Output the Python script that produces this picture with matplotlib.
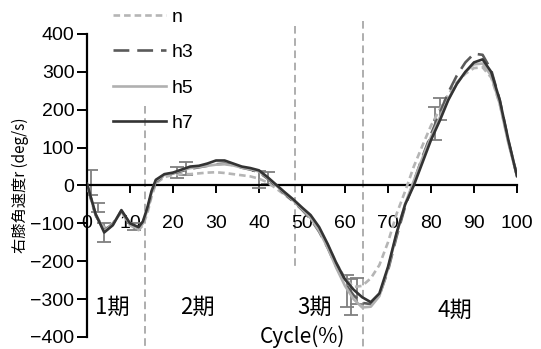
import numpy as np
import matplotlib.pyplot as plt
from matplotlib.lines import Line2D

# データ (Cycle %)
cycle = [0, 2, 4, 6, 8, 10, 12, 13, 14, 15, 16, 18, 20, 22, 24, 26, 28, 30, 32, 34, 36, 38,
         40, 42, 44, 46, 48, 50, 52, 54, 56, 58, 60, 62, 64, 66, 68, 70, 72, 74, 76, 78,
         80, 82, 84, 86, 88, 90, 92, 94, 96, 98, 100]

n_vals = [0, -80, -112, -100, -70, -105, -118, -105, -75, -30, 5, 22, 28, 30, 30, 32, 34, 35, 33, 30, 27, 24,
          18, 8, -8, -25, -42, -62, -85, -115, -158, -205, -245, -268, -265, -245, -210, -150, -75, -15, 50, 105,
          158, 200, 240, 272, 295, 310, 312, 285, 215, 115, 28]
h3_vals = [3, -78, -118, -102, -68, -100, -112, -98, -65, -22, 10, 27, 32, 38, 44, 48, 52, 56, 58, 54, 47, 42,
           35, 18, -2, -22, -42, -64, -88, -122, -165, -215, -258, -290, -310, -313, -290, -225, -135, -55, 10, 75,
           135, 190, 245, 290, 325, 348, 345, 305, 225, 118, 25]
h5_vals = [2, -76, -120, -103, -67, -102, -115, -100, -66, -20, 12, 28, 33, 40, 46, 49, 52, 55, 56, 53, 47, 43,
           37, 20, 0, -20, -40, -62, -86, -120, -165, -218, -265, -300, -322, -320, -292, -220, -128, -48, 12, 72,
           128, 178, 228, 268, 300, 320, 322, 290, 215, 112, 25]
h7_vals = [5, -75, -124, -105, -65, -100, -110, -95, -60, -15, 15, 30, 34, 42, 50, 52, 58, 66, 66, 58, 50, 46,
           40, 22, 2, -18, -37, -58, -78, -110, -155, -205, -248, -275, -295, -308, -285, -215, -125, -50, 0, 60,
           120, 170, 225, 268, 300, 325, 333, 300, 225, 120, 25]

# 誤差範囲
err_x = [1, 2.5, 4, 11, 21, 23, 40, 42, 60.5, 61.5, 62.8, 81, 82]
err_y = [9, -58, -125, -108, 35, 45, 15, 20, -278, -295, -278, 164, 203]
err_e = [33, 12, 25, 10, 15, 18, 22, 15, 43, 48, 35, 44, 29]

phase_labels = ['1期', '2期', '3期', '4期']
phase_x = [5.8, 25.6, 53, 85.6]
phase_y = [-321, -321, -321, -329]

plt.rcParams['font.family'] = ['Liberation Sans', 'Noto Sans CJK JP']

fig = plt.figure(figsize=(5.41, 3.49), dpi=100)
ax = fig.add_axes([0.1608, 0.0344, 0.7948, 0.8682])

ax.errorbar(err_x, err_y, yerr=err_e, fmt='none', ecolor='#7f7f7f', elinewidth=1.3,
            capsize=5, capthick=1.3, zorder=2)
ax.plot(cycle, n_vals, color='#b5b5b5', lw=1.9, dashes=(2.5, 1.5), zorder=3)
ax.plot(cycle, h3_vals, color='#5a5a5a', lw=1.9, dashes=(6, 3), zorder=3)
ax.plot(cycle, h5_vals, color='#b0b0b0', lw=1.9, zorder=3)
ax.plot(cycle, h7_vals, color='#333333', lw=1.9, zorder=4)

# 期の区切り線
for x0, y0, y1 in [(13.5, 210, -429), (48.4, 420, -221), (64.2, 434, -429)]:
    ax.plot([x0, x0], [y0, y1], color='#999999', lw=1.1, dashes=(5, 3), clip_on=False, zorder=1)

ax.set_xlim(0, 100)
ax.set_ylim(-400, 400)
ax.spines['top'].set_visible(False)
ax.spines['right'].set_visible(False)
ax.spines['bottom'].set_position(('data', 0))
ax.spines['left'].set_linewidth(1.6)
ax.spines['bottom'].set_linewidth(1.6)
ax.set_xticks(range(0, 101, 10))
ax.set_yticks(range(-400, 401, 100))
ax.tick_params(axis='x', direction='out', length=6, width=1.4, pad=15, labelsize=14)
ax.tick_params(axis='y', direction='out', length=7, width=1.4, pad=2, labelsize=14)

ax.set_ylabel('右膝角速度r (deg/s)', fontsize=11, family=['Noto Sans CJK JP', 'DejaVu Sans'])
ax.yaxis.set_label_coords(-0.135, 0.5)

for lab, x, y in zip(phase_labels, phase_x, phase_y):
    ax.text(x, y, lab, ha='center', va='center', fontsize=16, family=['Noto Sans CJK JP'])
ax.text(50, -398, 'Cycle(%)', ha='center', va='center', fontsize=15, family=['Noto Sans CJK JP'],
        clip_on=False)

handles = [Line2D([], [], color='#b5b5b5', lw=1.9, dashes=(2.5, 1.5)),
           Line2D([], [], color='#5a5a5a', lw=1.9, dashes=(6, 3)),
           Line2D([], [], color='#b0b0b0', lw=1.9),
           Line2D([], [], color='#333333', lw=1.9)]
fig.legend(handles, ['n', 'h3', 'h5', 'h7'], loc='upper left', bbox_to_anchor=(113 / 541, 1 - 8 / 349),
           frameon=False, fontsize=14, handlelength=2.7, handletextpad=0.3, labelspacing=0.92,
           borderaxespad=0, borderpad=0)

fig.savefig('out.png', dpi=100)
